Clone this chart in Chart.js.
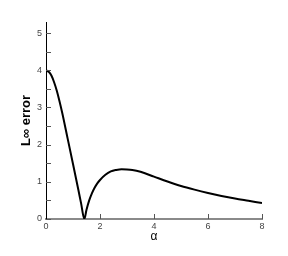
<!DOCTYPE html>
<html>
<head>
<meta charset="utf-8">
<script src="https://cdn.jsdelivr.net/npm/chart.js@4/dist/chart.umd.min.js"></script>
<style>
  html, body { margin: 0; padding: 0; background: #fff; }
  canvas { display: block; }
</style>
</head>
<body>
<canvas id="errChart" width="288" height="256"></canvas>
<script>
// values
const alphaVals = [0, 0.1, 0.2, 0.3, 0.4, 0.5, 0.6, 0.8, 1.0, 1.2, 1.3, 1.42, 1.5, 1.6, 1.7, 1.8, 1.9, 2.0, 2.2, 2.4, 2.6, 2.8, 3.0, 3.2, 3.5, 4.0, 4.5, 5.0, 5.5, 6.0, 6.5, 7.0, 7.5, 8.0];
const errVals   = [4.0, 3.96, 3.86, 3.68, 3.45, 3.17, 2.86, 2.17, 1.48, 0.78, 0.42, 0.0, 0.25, 0.5, 0.69, 0.84, 0.96, 1.05, 1.19, 1.28, 1.32, 1.34, 1.335, 1.32, 1.27, 1.14, 1.01, 0.89, 0.79, 0.70, 0.62, 0.55, 0.49, 0.43];
const xTicks = [0, 2, 4, 6, 8];
const yTicks = [0, 1, 2, 3, 4, 5];

const points = alphaVals.map((a, i) => ({ x: a, y: errVals[i] }));

// ticks in this plot point into the plot area
const innerTicks = {
  id: "innerTicks",
  afterDraw(chart) {
    const ctx = chart.ctx;
    const xs = chart.scales.x, ys = chart.scales.y;
    const area = chart.chartArea;
    ctx.save();
    ctx.strokeStyle = "#555";
    ctx.lineWidth = 1;
    ctx.beginPath();
    ys.ticks.forEach(t => {
      const y = Math.round(ys.getPixelForValue(t.value)) + 0.5;
      ctx.moveTo(area.left, y);
      ctx.lineTo(area.left + 5, y);
    });
    xs.ticks.forEach(t => {
      if (t.value === 0) return;
      const x = Math.round(xs.getPixelForValue(t.value)) + 0.5;
      ctx.moveTo(x, area.bottom);
      ctx.lineTo(x, area.bottom - 5);
    });
    ctx.stroke();
    ctx.restore();
  }
};

new Chart(document.getElementById("errChart").getContext("2d"), {
  type: "scatter",
  data: {
    datasets: [{
      data: points,
      showLine: true,
      borderColor: "#000",
      borderWidth: 2,
      pointRadius: 0,
      cubicInterpolationMode: "monotone"
    }]
  },
  options: {
    responsive: false,
    animation: false,
    layout: { padding: { top: 22, right: 26, bottom: 0, left: 0 } },
    plugins: { legend: { display: false }, tooltip: { enabled: false } },
    scales: {
      x: {
        type: "linear",
        min: 0, max: 8,
        afterFit: s => { s.height = 37; },
        afterBuildTicks: s => { s.ticks = xTicks.map(v => ({ value: v })); },
        grid: { display: false, drawTicks: false },
        border: { color: "#8a8a8a", width: 2 },
        ticks: { color: "#444", padding: 2, font: { family: "Liberation Sans", size: 9 } },
        title: { display: true, text: "α", color: "#000", padding: { top: 0, bottom: 12 },
                 font: { family: "Liberation Sans", size: 12 } }
      },
      y: {
        min: 0, max: 5.3,
        afterFit: s => { s.width = 46; },
        afterBuildTicks: s => {
          const t = [];
          for (let v = 0; v <= 5; v += 0.5) t.push({ value: v });
          s.ticks = t;
        },
        grid: { display: false, drawTicks: false },
        border: { color: "#000", width: 1 },
        ticks: {
          color: "#444", padding: 4, autoSkip: false,
          font: { family: "Liberation Sans", size: 9 },
          callback: v => yTicks.includes(v) ? String(v) : ""
        },
        title: { display: true, text: "L∞ error", color: "#000", padding: { top: 19, bottom: 0 },
                 font: { family: "Liberation Sans", size: 13, weight: "bold" } }
      }
    }
  },
  plugins: [innerTicks]
});
</script>
</body>
</html>
